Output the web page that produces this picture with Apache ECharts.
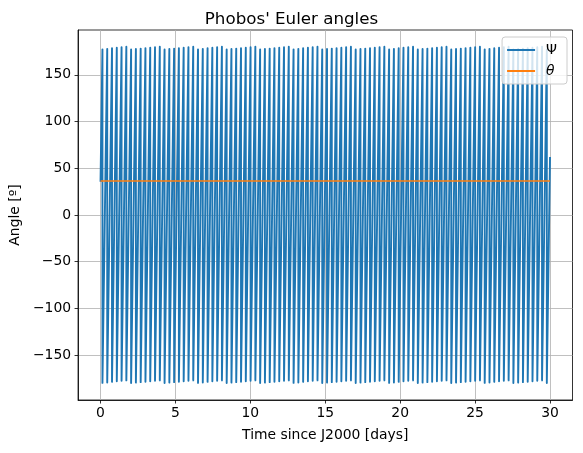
<!DOCTYPE html>
<html>
<head>
<meta charset="utf-8">
<script src="https://cdn.jsdelivr.net/npm/echarts@6/dist/echarts.min.js"></script>
<style>html,body{margin:0;padding:0;background:#fff}#c{width:583px;height:453px}</style>
</head>
<body>
<div id="c"></div>
<script>
// ---- data ----
const psiStart = [0, 35.6];
const psiEnd = [30, 62];
const wrapTimes = [
 0.128, 0.447, 0.766, 1.085, 1.404, 1.723, 2.041, 2.360, 2.679, 2.998,
 3.317, 3.636, 3.955, 4.274, 4.593, 4.912, 5.230, 5.549, 5.868, 6.187,
 6.506, 6.825, 7.144, 7.463, 7.782, 8.101, 8.419, 8.738, 9.057, 9.376,
 9.695, 10.014, 10.333, 10.652, 10.971, 11.290, 11.608, 11.927, 12.246, 12.565,
 12.884, 13.203, 13.522, 13.841, 14.160, 14.479, 14.797, 15.116, 15.435, 15.754,
 16.073, 16.392, 16.711, 17.030, 17.349, 17.668, 17.986, 18.305, 18.624, 18.943,
 19.262, 19.581, 19.900, 20.219, 20.538, 20.857, 21.175, 21.494, 21.813, 22.132,
 22.451, 22.770, 23.089, 23.408, 23.727, 24.046, 24.364, 24.683, 25.002, 25.321,
 25.640, 25.959, 26.278, 26.597, 26.916, 27.235, 27.553, 27.872, 28.191, 28.510,
 28.829, 29.148, 29.467, 29.786
];
const peakValues = [
 177.3, 177.8, 178.4, 179.0, 179.5, 180.0,
 177.1, 177.6, 178.1, 178.6, 179.1, 179.6, 180.0,
 177.1, 177.6, 178.1, 178.6, 179.1, 179.6, 180.0,
 177.3, 177.8, 178.4, 179.0, 179.5, 180.0,
 177.1, 177.6, 178.1, 178.6, 179.1, 179.6, 180.0,
 177.1, 177.6, 178.1, 178.6, 179.1, 179.6, 180.0,
 177.3, 177.8, 178.4, 179.0, 179.5, 180.0,
 177.1, 177.6, 178.1, 178.6, 179.1, 179.6, 180.0,
 177.1, 177.6, 178.1, 178.6, 179.1, 179.6, 180.0,
 177.3, 177.8, 178.4, 179.0, 179.5, 180.0,
 177.1, 177.6, 178.1, 178.6, 179.1, 179.6, 180.0,
 177.1, 177.6, 178.1, 178.6, 179.1, 179.6, 180.0,
 177.3, 177.8, 178.4, 179.0, 179.5, 180.0,
 177.1, 177.6, 178.1, 178.6, 179.1, 179.6, 180.0,
 177.1
];
const troughValues = [
 -179.7, -179.2, -178.6, -178.0, -177.5, -177.0,
 -179.9, -179.4, -178.9, -178.4, -177.9, -177.4, -177.0,
 -179.9, -179.4, -178.9, -178.4, -177.9, -177.4, -177.0,
 -179.7, -179.2, -178.6, -178.0, -177.5, -177.0,
 -179.9, -179.4, -178.9, -178.4, -177.9, -177.4, -177.0,
 -179.9, -179.4, -178.9, -178.4, -177.9, -177.4, -177.0,
 -179.7, -179.2, -178.6, -178.0, -177.5, -177.0,
 -179.9, -179.4, -178.9, -178.4, -177.9, -177.4, -177.0,
 -179.9, -179.4, -178.9, -178.4, -177.9, -177.4, -177.0,
 -179.7, -179.2, -178.6, -178.0, -177.5, -177.0,
 -179.9, -179.4, -178.9, -178.4, -177.9, -177.4, -177.0,
 -179.9, -179.4, -178.9, -178.4, -177.9, -177.4, -177.0,
 -179.7, -179.2, -178.6, -178.0, -177.5, -177.0,
 -179.9, -179.4, -178.9, -178.4, -177.9, -177.4, -177.0,
 -179.9
];
const thetaTimes = [0, 30];
const thetaValues = [36.5, 36.5];
const xTicks = [0, 5, 10, 15, 20, 25, 30];
const yTicks = [-150, -100, -50, 0, 50, 100, 150];

// ---- build series data ----
const psiData = [psiStart];
for (let k = 0; k < wrapTimes.length; k++) {
  psiData.push([wrapTimes[k], peakValues[k]]);
  psiData.push([wrapTimes[k], troughValues[k]]);
}
psiData.push(psiEnd);
const thetaData = thetaTimes.map((t, i) => [t, thetaValues[i]]);

const FONT = 'DejaVu Sans';
const chart = echarts.init(document.getElementById('c'), null, {renderer: 'canvas'});
chart.setOption({
  animation: false,
  backgroundColor: '#ffffff',
  title: {
    text: "Phobos' Euler angles",
    left: 'center',
    top: 6,
    textStyle: {fontFamily: FONT, fontSize: 16.7, fontWeight: 'normal', color: '#000'}
  },
  grid: {left: 78, right: 10.5, top: 30, bottom: 53, show: true, borderColor: '#000', borderWidth: 0.8, backgroundColor: 'transparent'},
  legend: {
    orient: 'vertical',
    right: 16,
    top: 37,
    icon: 'rect',
    itemWidth: 28,
    itemHeight: 2,
    itemGap: 7,
    padding: [6, 10, 6, 5],
    backgroundColor: 'rgba(255,255,255,0.8)',
    borderColor: '#cccccc',
    borderWidth: 1,
    borderRadius: 3,
    textStyle: {fontFamily: FONT, fontSize: 13.9, color: '#000', padding: [0, 0, 0, 6],
      rich: {i: {fontFamily: FONT, fontSize: 13.9, fontStyle: 'italic', color: '#000'}}},
    formatter: function (name) { return name === 'θ' ? '{i|θ}' : name; },
    data: ['Ψ', 'θ']
  },
  xAxis: {
    type: 'value',
    min: -1.5,
    max: 31.5,
    name: 'Time since J2000 [days]',
    nameLocation: 'middle',
    nameGap: 28,
    nameTextStyle: {fontFamily: FONT, fontSize: 13.9, color: '#000'},
    axisLine: {show: true, onZero: false, lineStyle: {color: '#000', width: 0.8}},
    axisTick: {show: true, inside: false, length: 3.5, lineStyle: {color: '#000', width: 0.8}, customValues: xTicks},
    axisLabel: {margin: 6, fontFamily: FONT, fontSize: 13.9, color: '#000', customValues: xTicks, formatter: v => String(v)},
    splitLine: {show: true, lineStyle: {color: '#b0b0b0', width: 0.8}}
  },
  yAxis: {
    type: 'value',
    min: -198,
    max: 198,
    name: 'Angle [º]',
    nameLocation: 'middle',
    nameRotate: 90,
    nameGap: 54,
    nameTextStyle: {fontFamily: FONT, fontSize: 13.9, color: '#000'},
    axisLine: {show: true, onZero: false, lineStyle: {color: '#000', width: 0.8}},
    axisTick: {show: true, inside: false, length: 3.5, lineStyle: {color: '#000', width: 0.8}, customValues: yTicks},
    axisLabel: {margin: 7, fontFamily: FONT, fontSize: 13.9, color: '#000', customValues: yTicks,
      formatter: v => (v < 0 ? '\u2212' + Math.abs(v) : String(v))},
    splitLine: {show: true, lineStyle: {color: '#b0b0b0', width: 0.8}}
  },
  series: [
    {
      name: 'Ψ', type: 'line', data: psiData, showSymbol: false, symbol: 'none',
      color: '#1f77b4', lineStyle: {color: '#1f77b4', width: 1.9, join: 'round'}, sampling: null
    },
    {
      name: 'θ', type: 'line', data: thetaData, showSymbol: false, symbol: 'none',
      color: '#ff7f0e', lineStyle: {color: '#ff7f0e', width: 1.5}
    }
  ]
});
</script>
</body>
</html>
